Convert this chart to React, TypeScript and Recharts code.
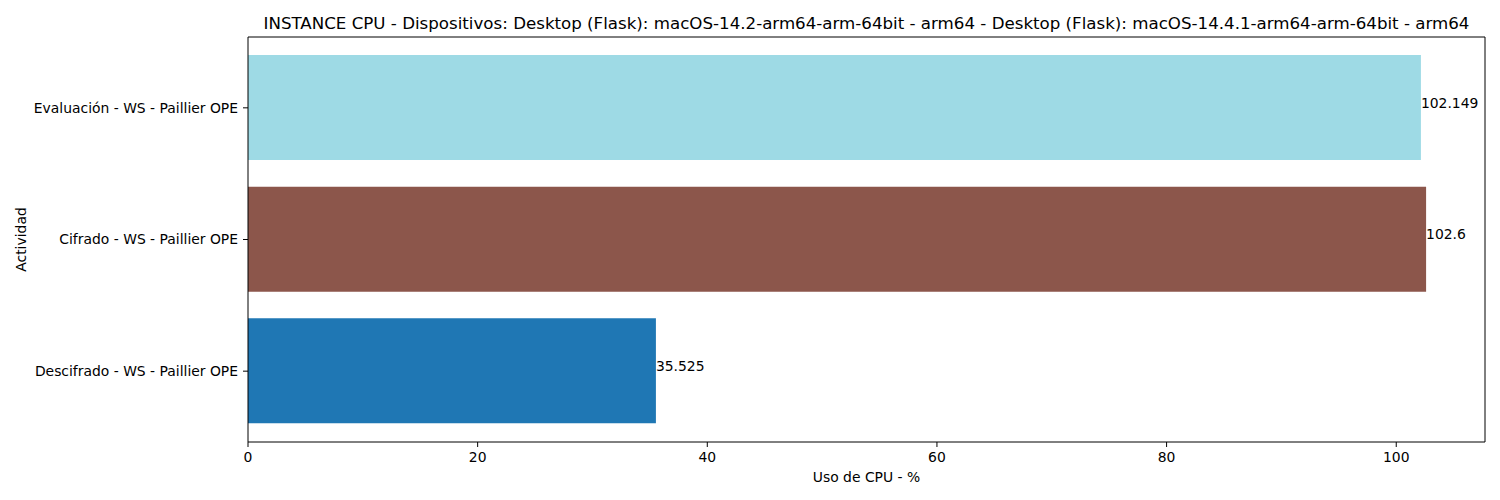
import React from 'react';
import { BarChart, Bar, XAxis, YAxis, Cell, LabelList } from 'recharts';

const categories = [
  'Evaluación - WS - Paillier OPE',
  'Cifrado - WS - Paillier OPE',
  'Descifrado - WS - Paillier OPE',
];
const cpuValues = [102.149, 102.6, 35.525];
const barColors = ['#9edae5', '#8c564b', '#1f77b4'];
const xTicks = [0, 20, 40, 60, 80, 100];
const title =
  'INSTANCE CPU - Dispositivos: Desktop (Flask): macOS-14.2-arm64-arm-64bit - arm64 - Desktop (Flask): macOS-14.4.1-arm64-arm-64bit - arm64';

const data = categories.map((name, i) => ({ name, value: cpuValues[i], color: barColors[i] }));
const xMax = Math.max(...cpuValues) * 1.05;

const FONT = 'DejaVu Sans, sans-serif';
const TICK_FS = 13.9;

const YLabel = (props: any) => {
  const vb = props.viewBox || {};
  const cx = vb.x + 21;
  const cy = vb.y + vb.height / 2;
  return (
    <text
      x={cx}
      y={cy}
      transform={`rotate(-90, ${cx}, ${cy})`}
      textAnchor="middle"
      dominantBaseline="central"
      fontSize={TICK_FS}
      fontFamily={FONT}
      fill="#000"
    >
      Actividad
    </text>
  );
};

const XLabel = (props: any) => {
  const vb = props.viewBox || {};
  return (
    <text
      x={vb.x + vb.width / 2}
      y={vb.y + 40}
      textAnchor="middle"
      fontSize={TICK_FS}
      fontFamily={FONT}
      fill="#000"
    >
      Uso de CPU - %
    </text>
  );
};

const TitleLabel = (props: any) => {
  const vb = props.viewBox || {};
  return (
    <text
      x={vb.x + vb.width / 2}
      y={vb.y - 7}
      textAnchor="middle"
      fontSize={16.67}
      fontFamily={FONT}
      fill="#000"
    >
      {title}
    </text>
  );
};

const ValueLabel = (props: any) => {
  const { x, y, width, height, value } = props;
  return (
    <text
      x={Number(x) + Number(width)}
      y={Number(y) + Number(height) / 2}
      textAnchor="start"
      fontSize={TICK_FS}
      fontFamily={FONT}
      fill="#000"
    >
      {value}
    </text>
  );
};

export default function App() {
  return (
    <div style={{ position: 'absolute', left: 0, top: 0, background: '#fff' }}>
      <BarChart
        width={1500}
        height={500}
        data={data}
        layout="vertical"
        margin={{ top: 36, right: 14, bottom: 0, left: 0 }}
        style={{ fontFamily: FONT }}
      >
        <XAxis
          type="number"
          dataKey="value"
          domain={[0, xMax]}
          ticks={xTicks}
          allowDataOverflow
          height={58}
          tickSize={5}
          tickMargin={5}
          tick={{ fill: '#000', fontSize: TICK_FS, fontFamily: FONT }}
          axisLine={{ stroke: '#000', strokeWidth: 1 }}
          tickLine={{ stroke: '#000', strokeWidth: 1 }}
          label={<XLabel />}
        />
        <XAxis
          xAxisId="top"
          type="number"
          orientation="top"
          domain={[0, xMax]}
          height={1}
          tick={false}
          tickLine={false}
          axisLine={{ stroke: '#000', strokeWidth: 1 }}
          label={<TitleLabel />}
        />
        <YAxis
          type="category"
          dataKey="name"
          width={248}
          padding={{ top: 5, bottom: 5 }}
          tickSize={5}
          tickMargin={5}
          tick={{ fill: '#000', fontSize: TICK_FS, fontFamily: FONT }}
          axisLine={{ stroke: '#000', strokeWidth: 1 }}
          tickLine={{ stroke: '#000', strokeWidth: 1 }}
          label={<YLabel />}
        />
        <YAxis
          yAxisId="right"
          type="category"
          dataKey="name"
          orientation="right"
          width={1}
          tick={false}
          tickLine={false}
          axisLine={{ stroke: '#000', strokeWidth: 1 }}
        />
        <Bar dataKey="value" barSize={105} isAnimationActive={false}>
          {data.map((d, i) => (
            <Cell key={i} fill={d.color} />
          ))}
          <LabelList dataKey="value" content={<ValueLabel />} />
        </Bar>
      </BarChart>
    </div>
  );
}
